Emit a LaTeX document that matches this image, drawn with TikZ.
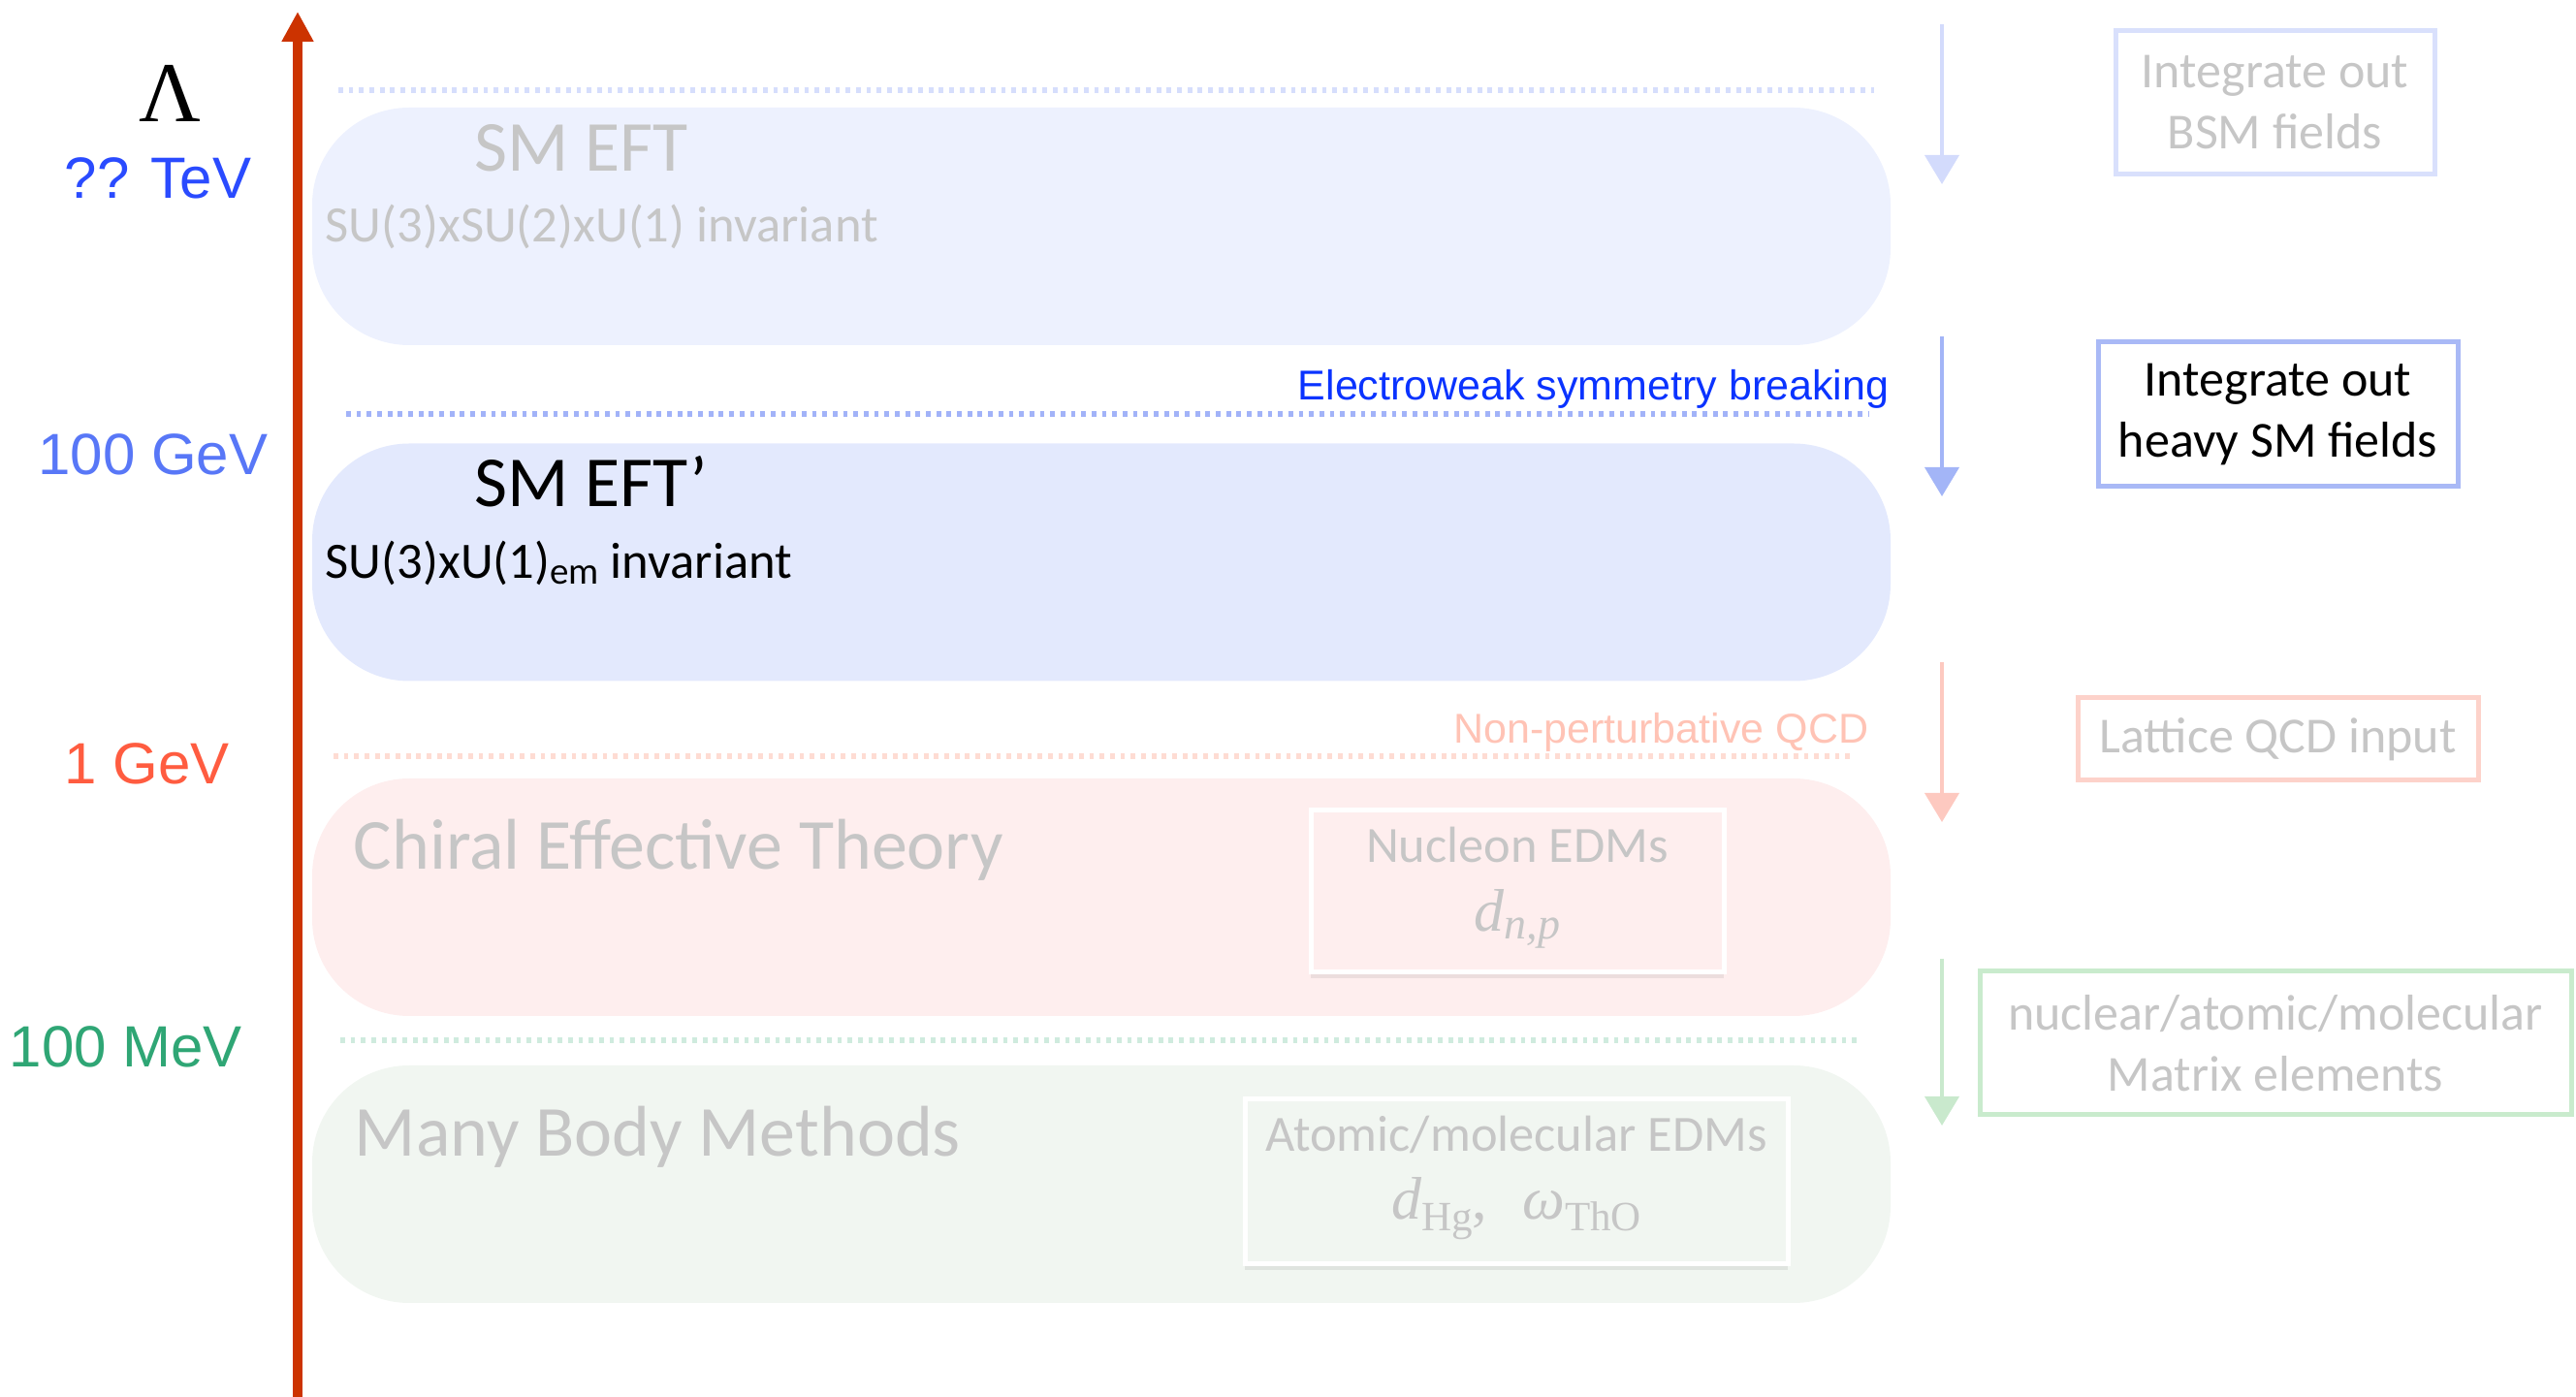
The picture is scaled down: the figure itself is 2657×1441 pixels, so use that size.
\documentclass[tikz,border=0pt]{standalone}
\usepackage{fontspec}
\setmainfont{Carlito}
\newfontfamily\helv{Liberation Sans}
\newfontfamily\tms{Liberation Serif}
\usetikzlibrary{arrows.meta,shadows}

% palette
\definecolor{axisred}{HTML}{CC3300}
\definecolor{graytxt}{HTML}{C6C6C6}
\definecolor{tevblue}{HTML}{2A4BFF}
\definecolor{gevblue}{HTML}{5877F7}
\definecolor{gevred}{HTML}{FF5C40}
\definecolor{mevgreen}{HTML}{2FA675}
\definecolor{ewblue}{HTML}{0A33FF}
\definecolor{qcdpink}{HTML}{FFC3B5}
\definecolor{bandA}{HTML}{EDF1FE}
\definecolor{bandB}{HTML}{E3E9FD}
\definecolor{bandC}{HTML}{FEEEEE}
\definecolor{bandD}{HTML}{F1F6F1}
\definecolor{dotA}{HTML}{D6DEFC}
\definecolor{dotB}{HTML}{A2B3F8}
\definecolor{dotC}{HTML}{FEDCD3}
\definecolor{dotD}{HTML}{CFEBDE}
\definecolor{arrA}{HTML}{D3DBFC}
\definecolor{arrB}{HTML}{A3B5F7}
\definecolor{arrC}{HTML}{FDC9C0}
\definecolor{arrD}{HTML}{C9E9CD}
\definecolor{bxA}{HTML}{D9E0FC}
\definecolor{bxB}{HTML}{A9B9F6}
\definecolor{bxC}{HTML}{FDD2CA}
\definecolor{bxD}{HTML}{C9EBCD}

\begin{document}
\begin{tikzpicture}[x=0.25pt,y=-0.25pt,
  band/.style={rounded corners=25pt, minimum width=407pt, minimum height=61.25pt, inner sep=0, outer sep=0},
  title/.style={font=\fontsize{18.5pt}{22pt}\selectfont, anchor=base west, inner sep=0},
  subtitle/.style={font=\fontsize{13.15pt}{15.75pt}\selectfont, anchor=base west, inner sep=0},
  scalelabel/.style={font=\helv\fontsize{15pt}{18pt}\selectfont, anchor=base, inner sep=0},
  regimenote/.style={font=\helv\fontsize{10.75pt}{13pt}\selectfont, anchor=base east, inner sep=0},
  dotline/.style={line width=1.3pt, dash pattern=on 1.2pt off 1.47pt},
  flowarrow/.style={line width=1pt, -{Triangle[width=8.75pt,length=7.5pt]}},
  sidebox/.style={draw, line width=1.25pt, inner sep=0, align=center,
    font=\fontsize{13pt}{15.75pt}\selectfont},
  edmbox/.style={draw=white, line width=1.25pt, inner sep=0,
    drop shadow={shadow xshift=0pt, shadow yshift=-1.6pt, fill=black, opacity=0.07}},
  edmtext/.style={font=\fontsize{13.1pt}{15.75pt}\selectfont, anchor=base, inner sep=0, text=graytxt},
  symb/.style={font=\tms\fontsize{15.5pt}{18pt}\selectfont, anchor=base, inner sep=0, text=graytxt}
]
\useasboundingbox (0,0) rectangle (2657,1441);

% energy axis
\coordinate (axisbot) at (307,1441);
\coordinate (axistop) at (307,12);
\draw[line width=2.5pt, axisred, -{Triangle[width=7.75pt,length=7.75pt]}] (axisbot) -- (axistop);
\node[font=\tms\fontsize{22pt}{26pt}\selectfont, anchor=base, inner sep=0] (lam) at (175,126) {Λ};

% scale labels
\node[scalelabel, text=tevblue]  (tev)  at (163,205)  {?? TeV};
\node[scalelabel, text=gevblue]  (ggev) at (158,490)  {100 GeV};
\node[scalelabel, text=gevred]   (onegev) at (152,809) {1 GeV};
\node[scalelabel, text=mevgreen] (mev)  at (130,1101) {100 MeV};

% threshold lines
\draw[dotline, dotA] (349,93) -- (1933,93);
\draw[dotline, dotB] (357,427) -- (1927,427);
\draw[dotline, dotC] (344,780) -- (1913,780);
\draw[dotline, dotD] (351,1073) -- (1920,1073);
\node[regimenote, text=ewblue]  (ewsb) at (1949,413) {Electroweak symmetry breaking};
\node[regimenote, text=qcdpink] (npq)  at (1928,767) {Non-perturbative QCD};

% effective theory bands
\node[band, fill=bandA] (smeft)   at (1136,233.5)  {};
\node[band, fill=bandB] (smeftp)  at (1136,580)    {};
\node[band, fill=bandC] (chiral)  at (1136,925.5)  {};
\node[band, fill=bandD] (manybody) at (1136,1221.5) {};

\node[title, text=graytxt] (t1) at (489,177) {SM EFT};
\node[subtitle, text=graytxt] (s1) at (335,250) {SU(3)xSU(2)xU(1) invariant};
\node[title] (t2) at (489,523) {SM EFT’};
\node[subtitle] (s2) at (335,597) {SU(3)xU(1)\raisebox{-1.5pt}{\fontsize{9.75pt}{11pt}\selectfont em} invariant};
\node[title, text=graytxt] (t3) at (364,897) {Chiral Effective Theory};
\node[title, text=graytxt] (t4) at (365,1193) {Many Body Methods};

% observables
\node[edmbox, fill=bandC, minimum width=106.5pt, minimum height=41.75pt] (nucbox) at (1565,919.5) {};
\node[edmtext] (nuct) at (1565,890) {Nucleon EDMs};
\node[symb] (nucd) at (1565,961) {\itshape d\raisebox{-2pt}{\fontsize{11.5pt}{12pt}\selectfont n,p}};

\node[edmbox, fill=bandD, minimum width=140pt, minimum height=42.5pt] (atombox) at (1564,1219) {};
\node[edmtext] (atomt) at (1564,1188) {Atomic/molecular EDMs};
\node[symb] (atomd) at (1564,1258) {\itshape d\raisebox{-3pt}{\upshape\fontsize{10.75pt}{12pt}\selectfont Hg}\upshape,\hspace{9pt}\itshape ω\raisebox{-3pt}{\upshape\fontsize{10.75pt}{12pt}\selectfont ThO}};

% matching steps
\coordinate (a1s) at (2003,25);   \coordinate (a1e) at (2003,190);
\coordinate (a2s) at (2003,347);  \coordinate (a2e) at (2003,512);
\coordinate (a3s) at (2003,683);  \coordinate (a3e) at (2003,848);
\coordinate (a4s) at (2003,989);  \coordinate (a4e) at (2003,1161);
\draw[flowarrow, arrA] (a1s) -- (a1e);
\draw[flowarrow, arrB] (a2s) -- (a2e);
\draw[flowarrow, arrC] (a3s) -- (a3e);
\draw[flowarrow, arrD] (a4s) -- (a4e);

\node[sidebox, draw=bxA, text=graytxt, minimum width=82.25pt, minimum height=37pt] (bsm) at (2346.5,106) {Integrate out\\BSM fields};
\node[sidebox, draw=bxB, minimum width=92.75pt, minimum height=37.25pt] (heavy) at (2349.5,427.5) {Integrate out\\heavy SM fields};
\node[sidebox, draw=bxC, text=graytxt, minimum width=103.25pt, minimum height=21.25pt] (lqcd) at (2349.5,762.5) {Lattice QCD input};
\node[sidebox, draw=bxD, text=graytxt, minimum width=152.5pt, minimum height=37pt] (mel) at (2347,1076) {nuclear/atomic/molecular\\Matrix elements};
\end{tikzpicture}
\end{document}
